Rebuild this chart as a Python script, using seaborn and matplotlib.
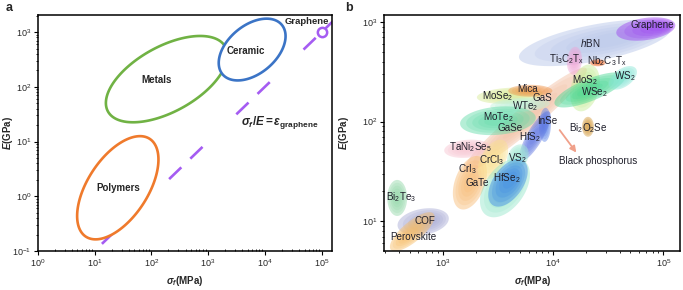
import numpy as np
import matplotlib
matplotlib.use('Agg')
import matplotlib.pyplot as plt
import seaborn as sns

# ---------------- Panel a data ----------------
a_names = ['Metals', 'Ceramic', 'Polymers']
a_sigma = [186, 5960, 25.7]          # MPa, centre of region
a_E = [138, 479, 1.43]               # GPa, centre of region
a_major = [1.18, 0.68, 1.03]         # semi-axes (decades)
a_minor = [0.575, 0.425, 0.53]
a_angle = [29, 40, 57]
a_label_sigma = [126, 4570, 25.7]
a_label_E = [135, 457, 1.40]

graphene_sigma = [1.0e5]
graphene_E = [1.0e3]
eps_graphene = 0.1                   # strain; E(GPa) = sigma(MPa)/(1000*eps)
line_sigma = [13.5, 1.6e5]

# ---------------- Panel b data ----------------
b_regions = ['hBN', 'Graphene', 'Black phosphorus', 'Ti3C2Tx', 'MoS2', 'WSe2', 'WS2',
             'Nb2C3Tx', 'MoSe2', 'WTe2', 'Mica', 'MoTe2', 'InSe', 'HfS2', 'Bi2O2Se',
             'TaNi2Se5', 'CrI3', 'CrCl3', 'HfSe2 halo', 'VS2', 'HfSe2',
             'Bi2Te3', 'COF', 'Perovskite']
b_sigma = [23880, 69180, 5580, 15600, 19450, 21530, 42850,
           25400, 4060, 5010, 6210, 3160, 8450, 6870, 20700,
           1660, 1760, 2850, 3660, 4800, 3900,
           386, 664, 528]
b_E = [617, 851, 104, 408, 218, 208, 275,
       390, 182, 147, 204, 102, 92.7, 71.9, 88.7,
       53.3, 24.3, 41.4, 21.6, 44.4, 24.2,
       17.1, 9.84, 7.82]
b_major = [0.70, 0.27, 0.724, 0.127, 0.217, 0.344, 0.145,
           0.072, 0.30, 0.27, 0.20, 0.344, 0.154, 0.253, 0.09,
           0.208, 0.253, 0.20, 0.30, 0.118, 0.244,
           0.163, 0.235, 0.253]
b_minor = [0.165, 0.10, 0.109, 0.068, 0.127, 0.10, 0.081,
           0.032, 0.072, 0.063, 0.054, 0.127, 0.054, 0.072, 0.054,
           0.081, 0.136, 0.109, 0.18, 0.09, 0.136,
           0.09, 0.118, 0.09]
b_angle = [11, 8, 40, 85, 75, 22, 35,
           0, 3, 3, 0, 5, 88, 60, 90,
           5, 70, 60, 55, 60, 55,
           90, 10, 40]
b_colors = ['#b3c3e8', '#9b3ef0', '#f2bea0', '#f0a4d6', '#c4ec92', '#44d692', '#86e6d6',
            '#f07030', '#d6ea92', '#bff0d8', '#f09448', '#5cdaa6', '#5a82ea', '#5a72e0', '#d49a3a',
            '#f8c2d0', '#f8b870', '#fae290', '#92e6c8', '#9eead2', '#3c86e8',
            '#8ed6a6', '#a4a8d4', '#f8bc62']
b_shift = [0.3, 0.7, 0.0, 0.0, 0.0, 0.0, 0.0,
           0.0, 0.0, 0.0, 0.0, 0.0, 0.0, 0.0, 0.0,
           0.0, 0.0, 0.0, 0.0, 0.0, 0.2,
           0.0, 0.3, -0.2]

b_labels = ['Graphene', r'$\mathit{h}$BN', r'Ti$_3$C$_2$T$_\mathrm{x}$', r'Nb$_2$C$_3$T$_\mathrm{x}$',
            r'MoS$_2$', r'WS$_2$', r'WSe$_2$', 'Mica', r'MoSe$_2$', 'GaS', r'WTe$_2$',
            r'MoTe$_2$', 'InSe', 'GaSe', r'Bi$_2$O$_2$Se', r'HfS$_2$', r'TaNi$_2$Se$_5$',
            r'CrCl$_3$', r'VS$_2$', r'CrI$_3$', 'GaTe', r'HfSe$_2$', 'Black phosphorus',
            r'Bi$_2$Te$_3$', 'COF', 'Perovskite']
b_label_sigma = [78500, 21500, 13340, 30700, 19400, 44700, 23900, 5920, 3160, 7930, 5560,
                 3160, 8790, 4060, 20650, 6170, 1770, 2790, 4700, 1660, 2040, 3820, 25500,
                 419, 692, 538]
b_label_E = [940, 620, 428, 408, 263, 288, 199, 214, 182, 173, 144,
             112, 102, 86.7, 86.7, 70.3, 55.8, 41.3, 43.3, 33.6, 24.3, 27.2, 40.4,
             17.6, 10.1, 6.95]
bp_arrow_sigma = [11070, 16800]
bp_arrow_E = [86.5, 46.4]

# ---------------- style ----------------
sns.set_theme(style='ticks')
plt.rcParams['font.family'] = ['Liberation Sans', 'DejaVu Sans']
plt.rcParams['mathtext.fontset'] = 'custom'
plt.rcParams['mathtext.rm'] = 'Liberation Sans'
plt.rcParams['mathtext.it'] = 'Liberation Sans:italic'
plt.rcParams['mathtext.bf'] = 'Liberation Sans:bold'
plt.rcParams['mathtext.bfit'] = 'Liberation Sans:bold:italic'
plt.rcParams['lines.scale_dashes'] = False


def ellipse_xy(sig, E, a, b, ang, r, scale=1.0, shift=0.0, n=240):
    t = np.linspace(0, 2 * np.pi, n)
    th = np.deg2rad(ang)
    u = scale * a * np.cos(t) + (1 - scale) * shift * a
    v = scale * b * np.sin(t)
    dx = u * np.cos(th) - v * np.sin(th)
    dy = (u * np.sin(th) + v * np.cos(th)) * r
    return 10 ** (np.log10(sig) + dx), 10 ** (np.log10(E) + dy)


fig = plt.figure(figsize=(6.83, 2.9), dpi=100)
ax1 = fig.add_axes([0.0552, 0.1345, 0.4308, 0.8135])
ax2 = fig.add_axes([0.5627, 0.1345, 0.4329, 0.8135])

for ax in (ax1, ax2):
    ax.set_xscale('log')
    ax.set_yscale('log')
    for s in ax.spines.values():
        s.set_linewidth(1.1)
        s.set_color('black')
        s.set_zorder(10)
    ax.tick_params(which='major', length=2.8, width=0.8, labelsize=6.5, pad=2, color='black')
    ax.tick_params(which='minor', length=1.6, width=0.6, color='black')

# ---------------- Panel a ----------------
ra = 1.035
sig_line = np.array(line_sigma)
E_line = sig_line / (1000 * eps_graphene)
sns.lineplot(x=sig_line, y=E_line, ax=ax1, color='#a55cf2', lw=1.9, sort=False,
             linestyle=(0, (12.2, 9, 12.2, 33.8)))
ax1.lines[-1].set_zorder(1)

a_cols = ['#70b244', '#3b74c6', '#ef7a2c']
for i in range(len(a_names)):
    x, y = ellipse_xy(a_sigma[i], a_E[i], a_major[i], a_minor[i], a_angle[i], ra)
    ax1.fill(x, y, facecolor='white', edgecolor=a_cols[i], lw=1.9, zorder=3)
    ax1.text(a_label_sigma[i], a_label_E[i], a_names[i], ha='center', va='center',
             fontsize=7, fontweight='bold', zorder=5)

sns.scatterplot(x=graphene_sigma, y=graphene_E, ax=ax1, s=45, marker='o',
                facecolor='white', edgecolor='#a55cf2', linewidth=1.8, zorder=6)
ax1.text(5.4e4, 1.55e3, 'Graphene', ha='center', va='center', fontsize=6.8,
         fontweight='bold', zorder=6)
ax1.text(1.8e4, 22.4, r'$\mathbfit{\sigma}_\mathbfit{f}\mathbf{/}\mathbfit{E}\mathbf{=}\mathbfit{\varepsilon}_\mathbf{graphene}$',
         ha='center', va='center', fontsize=8.5, zorder=6)

ax1.set_xlim(1, 10 ** 5.18)
ax1.set_ylim(0.1, 10 ** 3.31)
ax1.set_xticks([1, 10, 100, 1e3, 1e4, 1e5])
ax1.set_yticks([0.1, 1, 10, 100, 1e3])
ax1.tick_params(axis='x', which='minor', direction='in')
ax1.set_xlabel(r'$\mathbfit{\sigma}_\mathbfit{f}$(MPa)', fontsize=7, fontweight='bold')
ax1.set_ylabel(r'$\mathbfit{E}$(GPa)', fontsize=7, fontweight='bold')
ax1.yaxis.set_label_coords(-0.078, 0.5)
ax1.xaxis.set_label_coords(0.5, -0.097)

# ---------------- Panel b ----------------
rb = 1.11
layer_scale = [1.0, 0.84, 0.68, 0.52, 0.36]
layer_alpha = [0.45, 0.22, 0.22, 0.2, 0.2]
for i in range(len(b_regions)):
    for sc, al in zip(layer_scale, layer_alpha):
        x, y = ellipse_xy(b_sigma[i], b_E[i], b_major[i], b_minor[i], b_angle[i], rb,
                          scale=sc, shift=b_shift[i])
        ax2.fill(x, y, facecolor=b_colors[i], edgecolor='none', alpha=al, zorder=2 + i * 0.01)

ax2.annotate('', xy=(bp_arrow_sigma[1], bp_arrow_E[1]), xytext=(bp_arrow_sigma[0], bp_arrow_E[0]),
             arrowprops=dict(arrowstyle='-|>', color='#f0a08a', lw=1.3, mutation_scale=9),
             zorder=4)

for i in range(len(b_labels)):
    ax2.text(b_label_sigma[i], b_label_E[i], b_labels[i], ha='center', va='center',
             fontsize=7.1, color='#1e1e2a', zorder=5)

ax2.set_xlim(10 ** 2.47, 10 ** 5.15)
ax2.set_ylim(10 ** 0.70, 10 ** 3.07)
ax2.set_xticks([1e3, 1e4, 1e5])
ax2.set_yticks([10, 100, 1e3])
ax2.set_xlabel(r'$\mathbfit{\sigma}_\mathbfit{f}$(MPa)', fontsize=7, fontweight='bold')
ax2.set_ylabel(r'$\mathbfit{E}$(GPa)', fontsize=7, fontweight='bold')
ax2.yaxis.set_label_coords(-0.113, 0.5)
ax2.xaxis.set_label_coords(0.5, -0.097)

fig.text(0.008, 0.972, 'a', fontsize=9, fontweight='bold', va='center')
fig.text(0.505, 0.972, 'b', fontsize=9, fontweight='bold', va='center')

fig.savefig('out.png', dpi=100)
